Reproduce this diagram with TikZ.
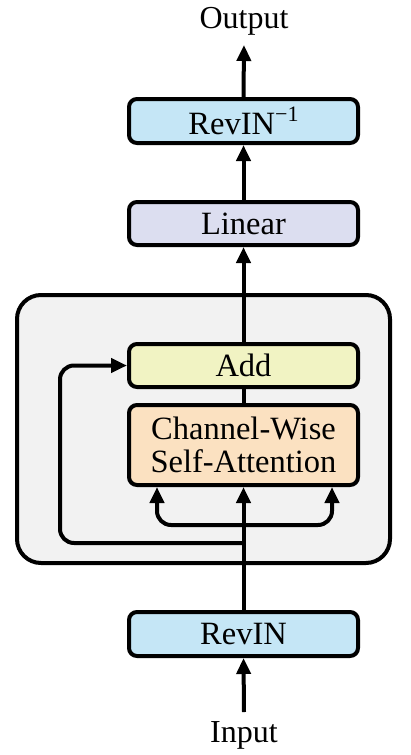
\documentclass[tikz,border=0pt]{standalone}
\usepackage{fontspec}
\setmainfont{Liberation Serif}
\usetikzlibrary{arrows.meta}
\definecolor{cblue}{HTML}{C5E6F6}
\definecolor{clin}{HTML}{DCDEF0}
\definecolor{cadd}{HTML}{F1F3C3}
\definecolor{cattn}{HTML}{FBE1C1}
\definecolor{cgrey}{HTML}{F2F2F2}
\tikzset{
  blk/.style={draw=black, line width=4pt, rounded corners=8pt, minimum width=229pt,
    inner sep=0pt, align=center, font=\fontsize{32.5}{34}\selectfont},
  lbl/.style={inner sep=0pt, anchor=base, font=\fontsize{32}{34}\selectfont},
  arr/.style={line width=4pt, -{Triangle[length=16pt,width=14pt]}},
  ln/.style={line width=4pt},
}
\begin{document}
\begin{tikzpicture}[x=1pt,y=-1pt]
\useasboundingbox (0,0) rectangle (411,755);
% outer module box
\node[draw=black, line width=4pt, fill=cgrey, rounded corners=24pt, minimum width=373pt, minimum height=268pt, inner sep=0pt] (mod) at (203.5,429) {};
% boxes
\node[blk, fill=cblue, minimum height=44pt] (rinv) at (243.5,121) {RevIN\raisebox{0.42em}{\fontsize{22}{22}\selectfont −1}};
\node[blk, fill=clin, minimum height=43pt] (lin) at (243.5,223.5) {Linear};
\node[blk, fill=cadd, minimum height=43pt] (add) at (243.5,365.5) {Add};
\node[blk, fill=cattn, minimum height=80pt] (attn) at (243.5,445) {Channel-Wise\\[-1pt]Self-Attention};
\node[blk, fill=cblue, minimum height=44pt] (rin) at (243.5,634) {RevIN};
% labels
\node[lbl] (out) at (244,28) {Output};
\node[lbl] (in) at (244,742) {Input};
\coordinate (outtip) at (244,45);
\coordinate (instart) at (244,712);
\coordinate (split) at (244,525);
\coordinate (res) at (244,543);
% connectors
\draw[arr] (instart) -- (rin.south);
\draw[arr] (rin.north) -- (attn.south);
\draw[arr, rounded corners=14pt] (split) -| ([xshift=-86.5pt]attn.south);
\draw[arr, rounded corners=14pt] (split) -| ([xshift=88.5pt]attn.south);
\draw[arr, rounded corners=14pt] (res) -| (60,365.5) -- (add.west);
\draw[ln] (attn.north) -- (add.south);
\draw[arr] (add.north) -- (lin.south);
\draw[arr] (lin.north) -- (rinv.south);
\draw[arr] (rinv.north) -- (outtip);
\end{tikzpicture}
\end{document}
